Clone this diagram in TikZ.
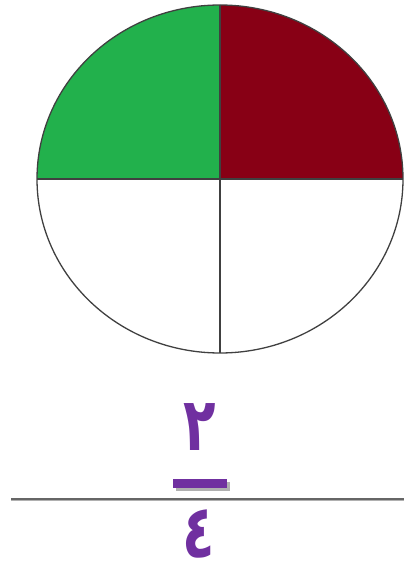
\documentclass[tikz,border=0pt]{standalone}
\usepackage{fontspec}
\newfontfamily\arabicfont[Script=Arabic]{DejaVu Sans}
\TeXXeTstate=1
\definecolor{pgreen}{HTML}{22B14C}
\definecolor{pred}{HTML}{880015}
\definecolor{ppurple}{HTML}{7030A0}
\definecolor{pline}{HTML}{404040}
\definecolor{pshadow}{HTML}{B0B0B0}
\tikzset{
  outline/.style={draw=pline, line width=1.3pt},
  digit/.style={text=ppurple, font=\arabicfont\bfseries\fontsize{74}{74}\selectfont, inner sep=0pt, xscale=0.72},
}
\begin{document}
\begin{tikzpicture}[x=1pt,y=1pt]
\useasboundingbox (0,0) rectangle (404,576);
\coordinate (c) at (220,397);
\coordinate (l) at (37,397);
\coordinate (r) at (403,397);
\coordinate (t) at (220,571);
\coordinate (b) at (220,223);
% coloured quarters
\fill[pgreen] (c) -- (l) arc[start angle=180,end angle=90,x radius=183pt,y radius=174pt] -- cycle;
\fill[pred] (c) -- (t) arc[start angle=90,end angle=0,x radius=183pt,y radius=174pt] -- cycle;
% outline
\draw[outline] (c) ellipse[x radius=183pt,y radius=174pt];
\draw[outline] (l) -- (r);
\draw[outline] (t) -- (b);
% fraction
\coordinate (fl) at (11,77);
\coordinate (fr) at (404,77);
\draw[pshadow, line width=2pt] ([yshift=-1.5pt]fl) -- ([yshift=-1.5pt]fr);
\draw[gray!80!black, line width=2pt] (fl) -- (fr);
\fill[pshadow] (176,85) rectangle (230,94);
\fill[ppurple] (173,88) rectangle (227,97);
\node[digit] (num) at (200,149) {\beginR ٢\endR};
\node[digit] (den) at (199,42) {\beginR ٤\endR};
\end{tikzpicture}
\end{document}
